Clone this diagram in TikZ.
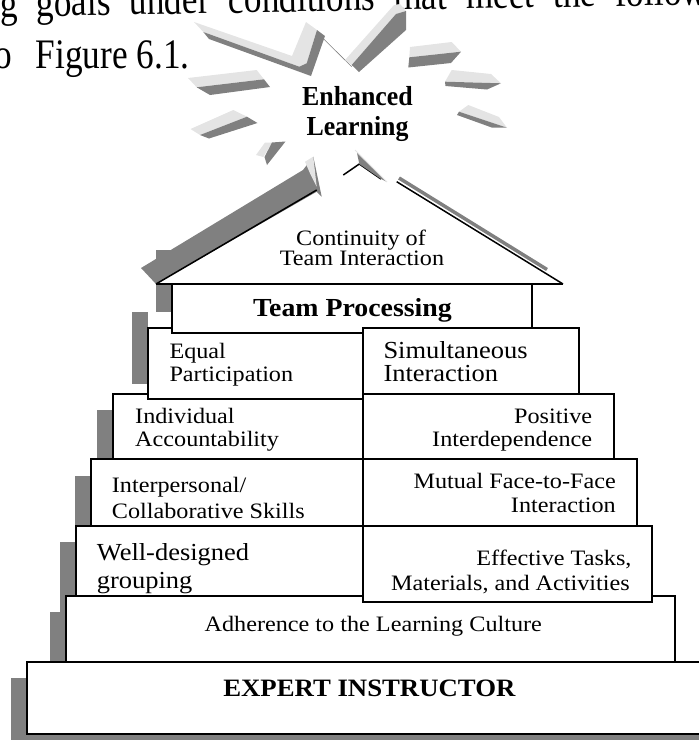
\documentclass[tikz,border=0pt]{standalone}
\usepackage{fontspec}
\setmainfont{Liberation Serif}
\newfontfamily\garafont[FakeStretch=1.1]{Liberation Serif}
\newfontfamily\garaboldfont[FakeStretch=1.07]{Liberation Serif}
\newfontfamily\timesfont[FakeStretch=1.08]{Liberation Serif}
\newfontfamily\narrowfont[FakeStretch=0.94]{Liberation Serif}
\newfontfamily\pagefont[FakeStretch=0.84]{Liberation Serif}
\definecolor{sgray}{HTML}{808080}
\definecolor{lgray}{HTML}{E4E4E4}
\begin{document}
\begin{tikzpicture}[x=1pt,y=-1pt,
  boxst/.style={draw=black, line width=1.7pt, fill=white},
  darkface/.style={fill=sgray, draw=none},
  liteface/.style={fill=lgray, draw=none},
  gtxt/.style={inner sep=0pt, font=\garafont\fontsize{22}{22}\selectfont},
  ttxt/.style={inner sep=0pt, font=\timesfont\fontsize{24.5}{24.5}\selectfont},
  btxt/.style={inner sep=0pt, font=\garaboldfont\bfseries\fontsize{26}{26}\selectfont},
  etxt/.style={inner sep=0pt, font=\narrowfont\bfseries\fontsize{27.5}{27.5}\selectfont},
  pagetxt/.style={inner sep=0pt, font=\pagefont\fontsize{42}{42}\selectfont},
  roofline/.style={draw=black, line width=1.5pt}
]
\useasboundingbox (0,0) rectangle (699,740);
\clip (0,0) rectangle (699,740);

% page text behind the figure
\node[pagetxt, anchor=base west, rotate=1] (pg1) at (0,17) {\makebox[707pt][s]{g goals under conditions that meet the follow}};
\node[pagetxt, anchor=base west] (pg2) at (-5.6,68) {o\hspace{23.7pt}Figure 6.1.};

% starburst rays
\fill[liteface] (194,22) -- (292,56) -- (306,22) -- (317,30) -- (306.7,63.3) -- (299.3,66.7) -- (203.3,32) -- cycle;
\fill[darkface] (203.3,32) -- (299.3,66.7) -- (306.7,63.3) -- (317,30) -- (325,36) -- (311,76) -- (209,39) -- cycle;
\draw[sgray, line width=0.6pt] (324,39.3) -- (351.7,66.7);
\fill[liteface] (345,60) -- (394,5) -- (400,4) -- (406,11) -- (396,14) -- (351.7,65) -- cycle;
\fill[darkface] (351.7,65) -- (396,14) -- (406,11) -- (406,30) -- (359,72) -- cycle;
\fill[liteface] (410,47) -- (451.7,42) -- (461,51.7) -- (409.3,57.3) -- cycle;
\fill[darkface] (409.3,57.3) -- (461,51.7) -- (451,63) -- (408.3,67.5) -- cycle;
\fill[liteface] (451.7,70) -- (491,74) -- (501,83.3) -- (445,81.7) -- cycle;
\fill[darkface] (445,81.7) -- (501,83.3) -- (487,89.5) -- (445.5,86) -- cycle;
\fill[liteface] (468.3,105) -- (499,117) -- (507,127.7) -- (459,111.7) -- cycle;
\fill[darkface] (459,111.7) -- (507,127.7) -- (491.7,127.5) -- (457,115) -- cycle;
\fill[liteface] (188,78) -- (256.7,70) -- (264,79.3) -- (196.7,87.3) -- cycle;
\fill[darkface] (196.7,87.3) -- (264,79.3) -- (270,87) -- (210,95) -- cycle;
\fill[liteface] (190.5,129) -- (233.3,110) -- (247,116.7) -- (200,135) -- cycle;
\fill[darkface] (200,135) -- (247,116.7) -- (257.5,123) -- (209,138.5) -- cycle;
\fill[liteface] (256,155) -- (265,142.5) -- (272,142.5) -- (263.3,157) -- cycle;
\fill[darkface] (272,142.5) -- (285.5,141.5) -- (267,165) -- (264.5,157) -- cycle;

% shadows of the steps
\fill[darkface] (11,678) rectangle (720,750);
\fill[darkface] (49.7,611.7) rectangle (65.7,677.7);
\fill[darkface] (60,542) rectangle (76,612);
\fill[darkface] (74.7,476) rectangle (90.7,542);
\fill[darkface] (97.3,410) rectangle (113.3,475);
\fill[darkface] (131.7,312) rectangle (147.7,384);
\fill[darkface] (155.7,250) rectangle (171.7,312);

% roof
\fill[white] (156,284) -- (360,163) -- (563,284) -- cycle;
\fill[darkface] (141,268) -- (303,170) -- (313.3,156.7) -- (321.7,196.7) -- (316.7,191.7) -- (156,284) -- cycle;
\fill[liteface] (305,161.7) -- (313.3,156.7) -- (316.7,186.7) -- (310,173.3) -- cycle;
\draw[roofline] (156,284) -- (316.7,190);
\draw[roofline] (343.3,175) -- (359.3,164) -- (381,179);
\fill[darkface] (357,153) -- (386.7,181.7) -- (381,179) -- (359.3,164) -- cycle;
\draw[lgray, line width=1pt] (355,150) -- (387,182);
\draw[sgray, line width=3.5pt] (399,178) -- (547,269.5);
\draw[roofline] (396.7,181.7) -- (563,284);
\draw[roofline] (156,284) -- (563,284);
\node[gtxt, anchor=base] (cont1) at (361,245) {Continuity of};
\node[gtxt, anchor=base] (cont2) at (362,265) {Team Interaction};

% enhanced learning
\node[etxt, anchor=base] (en1) at (357.5,105) {Enhanced};
\node[etxt, anchor=base] (en2) at (357.5,135) {Learning};

% steps
\draw[boxst] (113.3,394) rectangle (363.3,458.7);
\node[gtxt, anchor=base west] (ia1) at (135,423.3) {Individual};
\node[gtxt, anchor=base west] (ia2) at (135,446.7) {Accountability};

\draw[boxst] (363.3,394) rectangle (614,458.7);
\node[gtxt, anchor=base east] (pi1) at (592.3,423.3) {Positive};
\node[gtxt, anchor=base east] (pi2) at (592.3,446.7) {Interdependence};

\draw[boxst] (147.7,328.3) rectangle (363.3,399.3);
\node[gtxt, anchor=base west] (eq1) at (169.3,358.3) {Equal};
\node[gtxt, anchor=base west] (eq2) at (169.3,381.7) {Participation};

\draw[boxst] (171.7,284) rectangle (532.3,333.3);
\node[btxt, anchor=base] (tp) at (352.5,316.7) {Team Processing};

\draw[boxst] (363.3,328.3) rectangle (579.3,393.7);
\node[ttxt, anchor=base west] (si1) at (383.3,358.3) {Simultaneous};
\node[ttxt, anchor=base west] (si2) at (383.3,381.7) {Interaction};

\draw[boxst] (90.7,459) rectangle (363.3,526);
\node[gtxt, anchor=base west] (ic1) at (111.7,492.7) {Interpersonal/};
\node[gtxt, anchor=base west] (ic2) at (111.7,518.3) {Collaborative Skills};

\draw[boxst] (363.3,459) rectangle (636.7,526);
\node[gtxt, anchor=base east] (mf1) at (616,488.3) {Mutual Face-to-Face};
\node[gtxt, anchor=base east] (mf2) at (616,512.7) {Interaction};

\draw[boxst] (76,526) rectangle (363.3,596);
\node[ttxt, anchor=base west] (wd1) at (96.7,560) {Well-designed};
\node[ttxt, anchor=base west] (wd2) at (96.7,588.3) {grouping};

\draw[boxst] (65.7,596) rectangle (675,661.7);
\node[gtxt, anchor=base] (ad) at (373.3,631.7) {Adherence to the Learning Culture};

\draw[boxst] (363.3,526) rectangle (652.3,602.3);
\node[gtxt, anchor=base east] (et1) at (631.7,565) {Effective Tasks,};
\node[gtxt, anchor=base east] (et2) at (630,590) {Materials, and Activities};

\draw[boxst] (27.3,661.7) rectangle (720,734);
\node[btxt, font=\garaboldfont\bfseries\fontsize{25}{25}\selectfont, anchor=base] (ex) at (369.4,696.7) {EXPERT INSTRUCTOR};
\end{tikzpicture}
\end{document}
